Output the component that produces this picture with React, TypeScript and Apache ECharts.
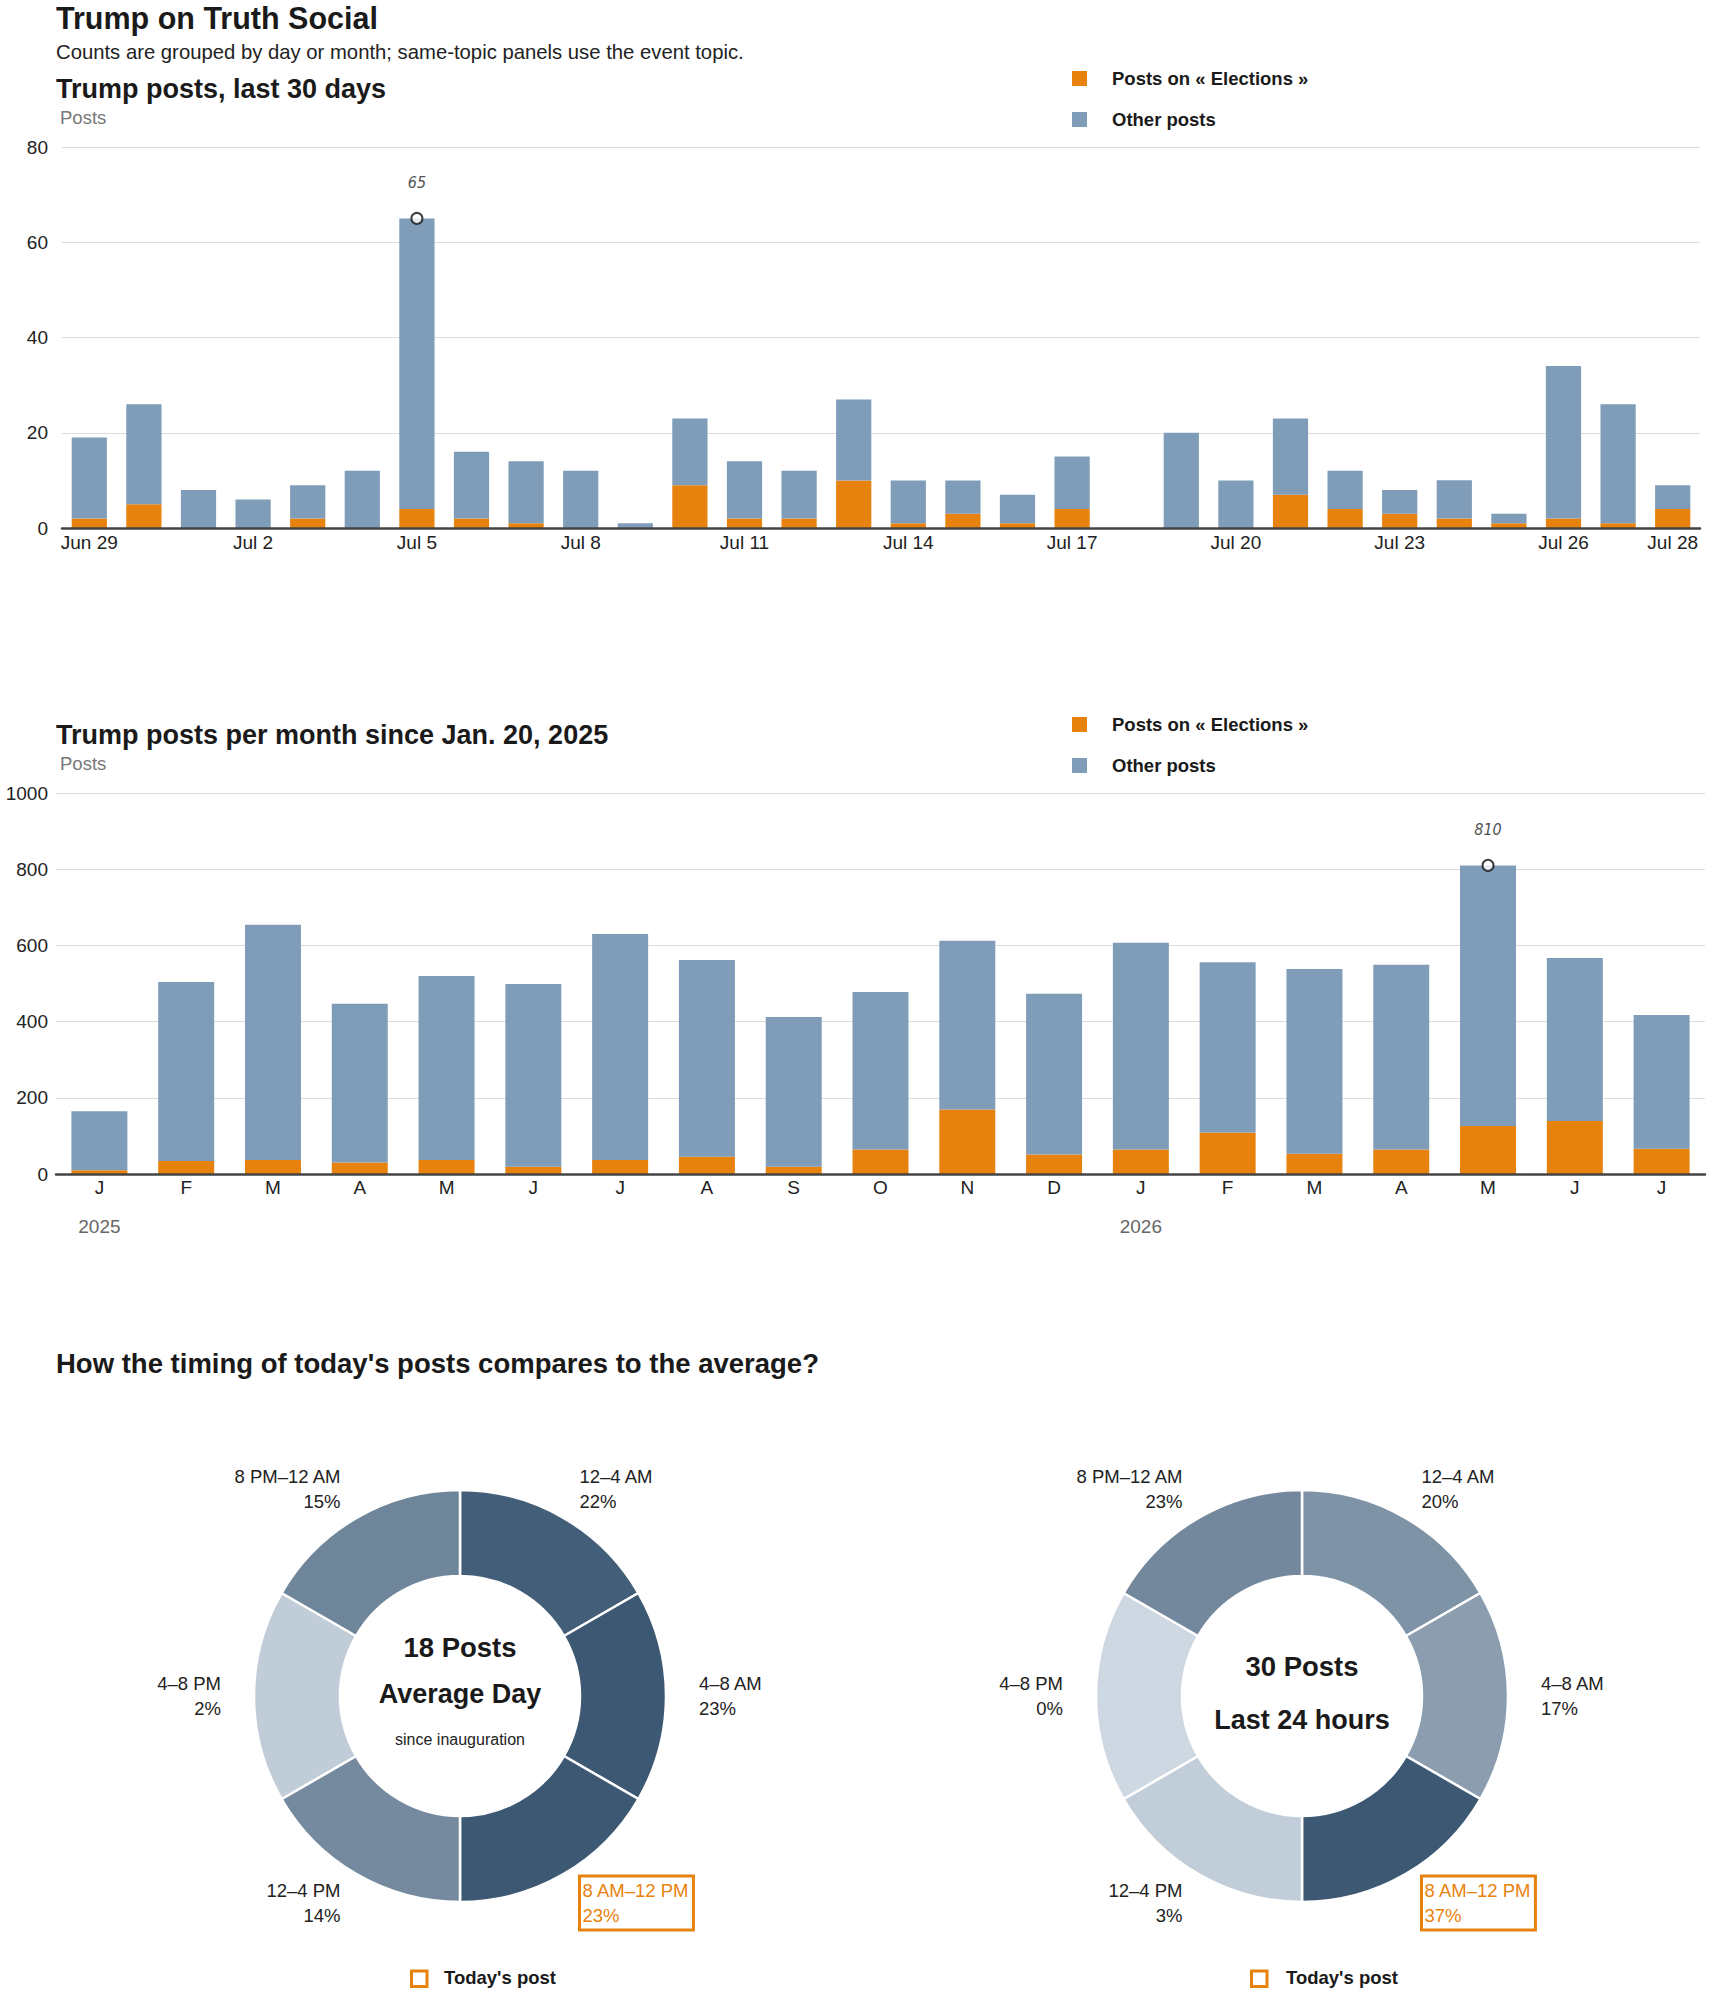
import React, { useEffect, useRef } from 'react';
import * as echarts from 'echarts';

const FONT = "'Liberation Sans', Arial, Helvetica, sans-serif";
const NARROW = "'Liberation Sans Narrow', 'DejaVu Sans Condensed', 'Liberation Sans', sans-serif";
const ORANGE = '#e8820e';
const BLUE = '#7f9db9';
const INK = '#1a1a1a';
const LIGHT_SLATE = '#cdd8e2';
const DARK_SLATE = '#3d5873';

const ELECT = 'Posts on « Elections »';
const OTHER = 'Other posts';

// ---- Daily chart (last 30 days) ----
const days = [
  'Jun 29', 'Jun 30', 'Jul 1', 'Jul 2', 'Jul 3', 'Jul 4', 'Jul 5', 'Jul 6', 'Jul 7', 'Jul 8',
  'Jul 9', 'Jul 10', 'Jul 11', 'Jul 12', 'Jul 13', 'Jul 14', 'Jul 15', 'Jul 16', 'Jul 17', 'Jul 18',
  'Jul 19', 'Jul 20', 'Jul 21', 'Jul 22', 'Jul 23', 'Jul 24', 'Jul 25', 'Jul 26', 'Jul 27', 'Jul 28',
];
const dailyElections = [2, 5, 0, 0, 2, 0, 4, 2, 1, 0, 0, 9, 2, 2, 10, 1, 3, 1, 4, 0, 0, 0, 7, 4, 3, 2, 1, 2, 1, 4];
const dailyOther = [17, 21, 8, 6, 7, 12, 61, 14, 13, 12, 1, 14, 12, 10, 17, 9, 7, 6, 11, 0, 20, 10, 16, 8, 5, 8, 2, 32, 25, 5];
const dailyYMax = 80;
const dailyYStep = 20;

// ---- Monthly chart ----
const months = [
  '2025-01', '2025-02', '2025-03', '2025-04', '2025-05', '2025-06', '2025-07', '2025-08', '2025-09', '2025-10',
  '2025-11', '2025-12', '2026-01', '2026-02', '2026-03', '2026-04', '2026-05', '2026-06', '2026-07',
];
const monthInitials = ['J', 'F', 'M', 'A', 'M', 'J', 'J', 'A', 'S', 'O', 'N', 'D', 'J', 'F', 'M', 'A', 'M', 'J', 'J'];
const monthYears = ['2025', '2025', '2025', '2025', '2025', '2025', '2025', '2025', '2025', '2025', '2025', '2025',
  '2026', '2026', '2026', '2026', '2026', '2026', '2026'];
const monthlyElections = [10, 34, 37, 30, 37, 19, 37, 45, 19, 64, 169, 51, 64, 109, 53, 64, 126, 139, 66];
const monthlyOther = [155, 470, 617, 417, 483, 480, 593, 517, 393, 414, 443, 422, 543, 447, 485, 485, 684, 428, 351];
const monthlyYMax = 1000;
const monthlyYStep = 200;

// ---- Timing donuts ----
const timeSlots = ['12–4 AM', '4–8 AM', '8 AM–12 PM', '12–4 PM', '4–8 PM', '8 PM–12 AM'];
const averagePct = [22, 23, 23, 14, 2, 15];
const todayPct = [20, 17, 37, 3, 0, 23];
const todaySlot = '8 AM–12 PM';

function peak(a: number[], b: number[]): [number, number] {
  let idx = 0;
  let val = -Infinity;
  a.forEach((v, i) => {
    const t = v + b[i];
    if (t > val) {
      val = t;
      idx = i;
    }
  });
  return [idx, val];
}

function txt(text: string, x: number, y: number, size: number, weight: string, color: string, align = 'left', family = FONT) {
  return {
    type: 'text',
    x,
    y,
    silent: true,
    style: {
      text,
      x: 0,
      y: 0,
      fill: color,
      fontSize: size,
      fontWeight: weight,
      fontFamily: family,
      align,
      verticalAlign: 'middle',
      textAlign: align,
      textVerticalAlign: 'middle',
    },
  };
}

function todayKey(x: number, y: number) {
  return [
    {
      type: 'rect',
      x,
      y,
      silent: true,
      shape: { x: 0, y: 0, width: 15.5, height: 15.5 },
      style: { fill: 'none', stroke: ORANGE, lineWidth: 3 },
    },
  ];
}

function barAxes(gridIndex: number, data: string[], labelFn: any, intervalFn: any, margin: number) {
  return {
    gridIndex,
    type: 'category',
    data,
    position: 'bottom',
    z: 3,
    axisLine: { show: true, lineStyle: { color: '#444', width: 2.5 } },
    axisTick: { show: false },
    splitLine: { show: false },
    axisLabel: {
      interval: intervalFn,
      formatter: labelFn,
      margin,
      fontSize: 19,
      color: '#222',
      fontFamily: FONT,
      hideOverlap: false,
    },
  };
}

function valueAxis(gridIndex: number, max: number, step: number, margin: number) {
  return {
    gridIndex,
    type: 'value',
    min: 0,
    max,
    interval: step,
    axisLine: { show: false },
    axisTick: { show: false },
    splitLine: { show: true, lineStyle: { color: '#dcdcdc', width: 1 } },
    axisLabel: {
      margin,
      fontSize: 19,
      color: '#222',
      fontFamily: FONT,
      formatter: (v: number) => String(v),
    },
  };
}

function stackedBars(axisX: number, axisY: number, elections: number[], other: number[], stack: string) {
  const [pi, pv] = peak(elections, other);
  return [
    {
      name: ELECT,
      type: 'bar',
      stack,
      xAxisIndex: axisX,
      yAxisIndex: axisY,
      data: elections,
      barCategoryGap: '35.5%',
      itemStyle: { color: ORANGE },
      silent: true,
    },
    {
      name: OTHER,
      type: 'bar',
      stack,
      xAxisIndex: axisX,
      yAxisIndex: axisY,
      data: other,
      barCategoryGap: '35.5%',
      itemStyle: { color: BLUE },
      silent: true,
    },
    {
      type: 'scatter',
      xAxisIndex: axisX,
      yAxisIndex: axisY,
      data: [[pi, pv]],
      symbol: 'circle',
      symbolSize: 11,
      z: 6,
      silent: true,
      itemStyle: { color: '#fff', borderColor: '#111', borderWidth: 2 },
      label: {
        show: true,
        position: 'top',
        distance: 21,
        formatter: (p: any) => String(p.value[1]),
        fontSize: 16,
        fontStyle: 'italic',
        fontFamily: NARROW,
        color: '#222',
      },
    },
  ];
}

function donut(cx: number, pcts: number[]) {
  const max = Math.max(...pcts);
  return {
    type: 'pie',
    center: [cx, 1696],
    radius: [120, 206],
    startAngle: 90,
    clockwise: true,
    avoidLabelOverlap: false,
    silent: true,
    itemStyle: { borderColor: '#fff', borderWidth: 2.5 },
    label: {
      show: true,
      position: 'outside',
      distanceToLabelLine: 0,
      formatter: (p: any) => `${p.name}\n${pcts[p.dataIndex]}%`,
      fontSize: 18.5,
      lineHeight: 24.5,
      color: '#222',
      fontFamily: FONT,
    },
    labelLine: { show: false, length: 33, length2: 0 },
    data: timeSlots.map((s, i) => ({
      name: s,
      value: 1,
      itemStyle: { color: echarts.color.lerp(max > 0 ? pcts[i] / max : 0, [LIGHT_SLATE, DARK_SLATE]) },
      label:
        s === todaySlot
          ? { color: ORANGE, borderColor: ORANGE, borderWidth: 3, padding: [3, 4, 2, 3] }
          : undefined,
    })),
  };
}

export default function App() {
  const ref = useRef<HTMLDivElement>(null);

  useEffect(() => {
    if (!ref.current) return;
    const chart = echarts.init(ref.current, undefined, { renderer: 'svg' });

    const legendBase = {
      left: 1072,
      orient: 'vertical',
      itemWidth: 15,
      itemHeight: 15,
      itemGap: 22,
      icon: 'rect',
      selectedMode: false,
      padding: 0,
      data: [ELECT, OTHER],
      textStyle: { fontFamily: FONT, fontSize: 18.5, fontWeight: 'bold', color: INK, padding: [0, 0, 0, 20] },
    };

    const option: any = {
      animation: false,
      backgroundColor: '#ffffff',
      textStyle: { fontFamily: FONT },
      legend: [
        { ...legendBase, top: 69 },
        { ...legendBase, top: 715 },
      ],
      grid: [
        { left: 62, right: 10, top: 147, height: 381 },
        { left: 56, right: 5, top: 793, height: 381 },
      ],
      xAxis: [
        barAxes(0, days, (v: string) => v, (i: number) => i % 3 === 0 || i === days.length - 1, 5),
        barAxes(1, months, (_v: string, i: number) => monthInitials[i], 0, 4),
        {
          gridIndex: 1,
          type: 'category',
          data: months,
          position: 'bottom',
          axisLine: { show: false },
          axisTick: { show: false },
          splitLine: { show: false },
          axisLabel: {
            interval: (i: number) => i === 0 || monthYears[i] !== monthYears[i - 1],
            formatter: (_v: string, i: number) => monthYears[i],
            margin: 43,
            fontSize: 19,
            color: '#666',
            fontFamily: FONT,
          },
        },
      ],
      yAxis: [
        valueAxis(0, dailyYMax, dailyYStep, 14),
        valueAxis(1, monthlyYMax, monthlyYStep, 8),
      ],
      graphic: [
        txt('Trump on Truth Social', 56, 18, 30.5, 'bold', INK),
        txt('Counts are grouped by day or month; same-topic panels use the event topic.', 56, 52, 20.3, 'normal', '#222'),
        txt('Trump posts, last 30 days', 56, 89, 27, 'bold', INK),
        txt('Posts', 60, 117, 18.5, 'normal', '#777'),
        txt('Trump posts per month since Jan. 20, 2025', 56, 735, 27, 'bold', INK),
        txt('Posts', 60, 763, 18.5, 'normal', '#777'),
        txt("How the timing of today's posts compares to the average?", 56, 1363, 27.5, 'bold', INK),
        txt('18 Posts', 460, 1647, 27.5, 'bold', INK, 'center'),
        txt('Average Day', 460, 1694, 27, 'bold', INK, 'center'),
        txt('since inauguration', 460, 1739, 16, 'normal', '#222', 'center'),
        txt('30 Posts', 1302, 1666, 27.5, 'bold', INK, 'center'),
        txt('Last 24 hours', 1302, 1720, 27, 'bold', INK, 'center'),
        ...todayKey(411.5, 1971),
        txt("Today's post", 444, 1977, 18.5, 'bold', INK),
        ...todayKey(1251.5, 1971),
        txt("Today's post", 1286, 1977, 18.5, 'bold', INK),
      ],
      series: [
        ...stackedBars(0, 0, dailyElections, dailyOther, 'daily'),
        ...stackedBars(1, 1, monthlyElections, monthlyOther, 'monthly'),
        donut(460, averagePct),
        donut(1302, todayPct),
      ],
    };

    chart.setOption(option);
    return () => {
      chart.dispose();
    };
  }, []);

  return (
    <div
      ref={ref}
      style={{ position: 'absolute', left: 0, top: 0, width: 1710, height: 1993, background: '#fff' }}
    />
  );
}
